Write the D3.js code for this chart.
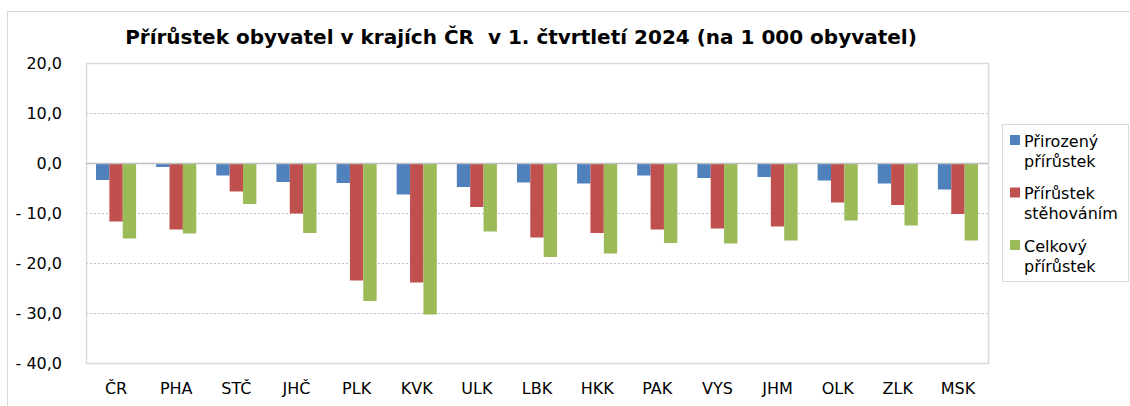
<!DOCTYPE html>
<html>
<head>
<meta charset="utf-8">
<script src="https://cdn.jsdelivr.net/npm/d3@7"></script>
<style>
  body { margin: 0; background: #fff; }
  svg { font-family: "DejaVu Sans", sans-serif; }
</style>
</head>
<body>
<div id="chart"></div>
<script>
// data (per 1 000 inhabitants)
const regions = ["ČR", "PHA", "STČ", "JHČ", "PLK", "KVK", "ULK", "LBK", "HKK", "PAK", "VYS", "JHM", "OLK", "ZLK", "MSK"];
const natural = [-3.4, -0.8, -2.5, -3.8, -4.0, -6.3, -4.8, -3.9, -4.1, -2.5, -3.0, -2.8, -3.5, -4.1, -5.3];
const migration = [-11.7, -13.3, -5.7, -10.1, -23.5, -23.9, -8.8, -14.9, -14.0, -13.3, -13.1, -12.7, -7.9, -8.4, -10.2];
const total = [-15.1, -14.1, -8.2, -14.0, -27.6, -30.3, -13.7, -18.8, -18.1, -16.0, -16.1, -15.5, -11.5, -12.5, -15.5];
const yTicks = [20, 10, 0, -10, -20, -30, -40];

const series = [
  { key: "natural", label: ["Přirozený", "přírůstek"], values: natural, color: "#4f81bd" },
  { key: "migration", label: ["Přírůstek", "stěhováním"], values: migration, color: "#c0504d" },
  { key: "total", label: ["Celkový", "přírůstek"], values: total, color: "#9bbb59" }
];

const width = 1130;
const height = 406;
const margin = { top: 63, right: 142, bottom: 43, left: 86 };

const svg = d3.select("#chart").append("svg")
  .attr("width", width)
  .attr("height", height);

// outer chart frame
svg.append("rect")
  .attr("x", 7.5).attr("y", 11.5)
  .attr("width", width).attr("height", height)
  .attr("fill", "none")
  .attr("stroke", "#d9d9d9");

svg.append("text")
  .attr("x", 521)
  .attr("y", 44)
  .attr("text-anchor", "middle")
  .attr("font-size", 20)
  .attr("font-weight", "bold")
  .attr("fill", "#000")
  .style("white-space", "pre")
  .text("Přírůstek obyvatel v krajích ČR  v 1. čtvrtletí 2024 (na 1 000 obyvatel)");

const x0 = d3.scaleBand()
  .domain(regions)
  .range([margin.left, width - margin.right])
  .paddingInner(1 / 3)
  .paddingOuter(1 / 6);

const x1 = d3.scaleBand()
  .domain(series.map(s => s.key))
  .range([0, x0.bandwidth()]);

const y = d3.scaleLinear()
  .domain([-40, 20])
  .range([height - margin.bottom, margin.top]);

const fmt = v => {
  const s = d3.format(".1f")(Math.abs(v)).replace(".", ",");
  return v < 0 ? "- " + s : s;
};

// gridlines (dashed)
svg.append("g")
  .selectAll("line")
  .data(yTicks.filter(t => t !== 0 && t !== 20 && t !== -40))
  .join("line")
  .attr("x1", margin.left).attr("x2", width - margin.right)
  .attr("y1", d => Math.round(y(d)) + 0.5).attr("y2", d => Math.round(y(d)) + 0.5)
  .attr("stroke", "#bfbfbf")
  .attr("stroke-dasharray", "2,2");

// plot area border
svg.append("rect")
  .attr("x", margin.left + 0.5)
  .attr("y", Math.round(y(20)) + 0.5)
  .attr("width", width - margin.right - margin.left)
  .attr("height", y(-40) - y(20))
  .attr("fill", "none")
  .attr("stroke", "#d9d9d9")
  .attr("stroke-width", 1.5);

// bars
const groups = svg.append("g")
  .selectAll("g")
  .data(regions.map((r, i) => ({ region: r, i })))
  .join("g")
  .attr("transform", d => `translate(${x0(d.region)},0)`);

groups.selectAll("rect")
  .data(d => series.map(s => ({ key: s.key, value: s.values[d.i], color: s.color })))
  .join("rect")
  .attr("x", d => x1(d.key))
  .attr("width", x1.bandwidth())
  .attr("y", d => y(Math.max(0, d.value)))
  .attr("height", d => Math.abs(y(d.value) - y(0)))
  .attr("fill", d => d.color);

// zero line
svg.append("line")
  .attr("x1", margin.left).attr("x2", width - margin.right)
  .attr("y1", Math.round(y(0)) + 0.5).attr("y2", Math.round(y(0)) + 0.5)
  .attr("stroke", "#bfbfbf")
  .attr("stroke-width", 1.5);

// y axis labels
svg.append("g")
  .selectAll("text")
  .data(yTicks)
  .join("text")
  .attr("x", 62)
  .attr("y", d => y(d))
  .attr("dy", "0.35em")
  .attr("text-anchor", "end")
  .attr("font-size", 16)
  .attr("fill", "#000")
  .text(fmt);

// x axis labels
svg.append("g")
  .selectAll("text")
  .data(regions)
  .join("text")
  .attr("x", d => x0(d) + x0.bandwidth() / 2)
  .attr("y", 388)
  .attr("dy", "0.35em")
  .attr("text-anchor", "middle")
  .attr("font-size", 16)
  .attr("fill", "#000")
  .text(d => d);

// legend
const legend = svg.append("g");
legend.append("rect")
  .attr("x", 1002.5).attr("y", 124.5)
  .attr("width", 126).attr("height", 157)
  .attr("fill", "#fff")
  .attr("stroke", "#d9d9d9");

const item = legend.selectAll("g.item")
  .data(series)
  .join("g")
  .attr("class", "item")
  .attr("transform", (d, i) => `translate(1010, ${135 + i * 52.5})`);

item.append("rect")
  .attr("width", 10).attr("height", 10)
  .attr("fill", d => d.color);

item.append("text")
  .attr("font-size", 16)
  .attr("fill", "#000")
  .selectAll("tspan")
  .data(d => d.label)
  .join("tspan")
  .attr("x", 14)
  .attr("y", (d, i) => 6 + i * 20)
  .attr("dy", "0.35em")
  .text(d => d);
</script>
</body>
</html>
